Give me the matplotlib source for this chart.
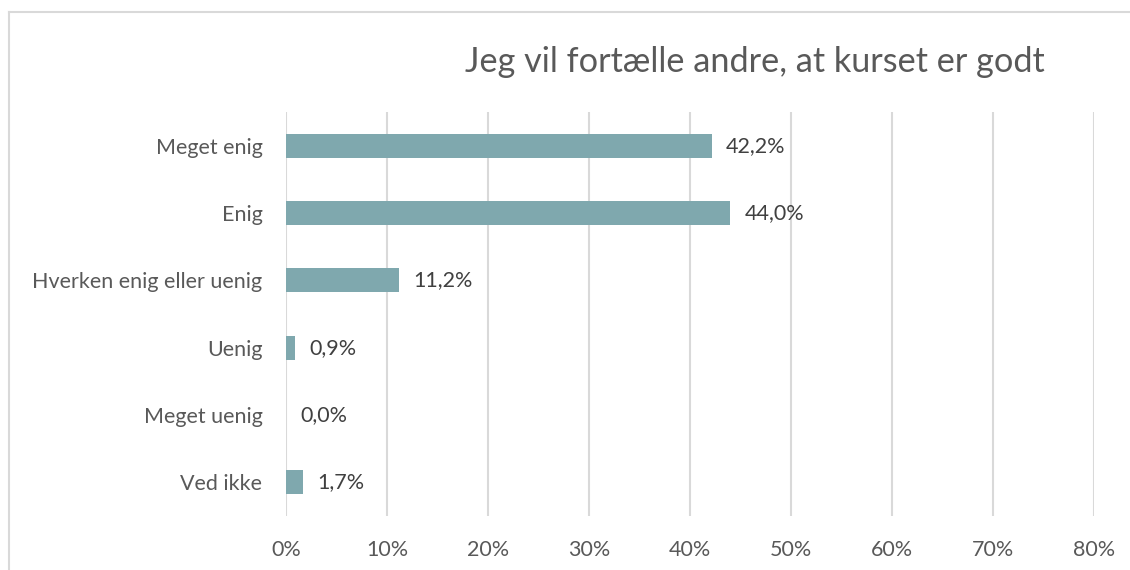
import matplotlib.pyplot as plt
from matplotlib.lines import Line2D

# data
kategorier = ["Meget enig", "Enig", "Hverken enig eller uenig", "Uenig", "Meget uenig", "Ved ikke"]
andele = [42.2, 44.0, 11.2, 0.9, 0.0, 1.7]
etiketter = ["42,2%", "44,0%", "11,2%", "0,9%", "0,0%", "1,7%"]
xticks = [0, 10, 20, 30, 40, 50, 60, 70, 80]
titel = "Jeg vil fortælle andre, at kurset er godt"

plt.rcParams['font.family'] = ['Lato', 'DejaVu Sans']

fig = plt.figure(figsize=(11.3, 5.7), dpi=100)
ax = fig.add_axes([286/1130, 1 - 516/570, (1094 - 286)/1130, (516 - 112)/570])

y = list(range(len(kategorier)))
ax.barh(y, andele, height=0.36, color="#7FA8AE", zorder=3)
ax.set_ylim(len(kategorier) - 0.5, -0.5)
ax.set_xlim(0, 80)

for yi, v, lab in zip(y, andele, etiketter):
    ax.annotate(lab, (v, yi), xytext=(10, 0), textcoords="offset points",
                va="center", ha="left", fontsize=15.5, color="#404040")

ax.set_yticks(y)
ax.set_yticklabels(kategorier, fontsize=15.5, color="#595959")
ax.set_xticks(xticks)
ax.set_xticklabels([f"{t}%" for t in xticks], fontsize=15.5, color="#595959")
ax.tick_params(length=0, pad=17, axis="y")
ax.tick_params(length=0, pad=17, axis="x")
ax.xaxis.grid(True, color="#D9D9D9", linewidth=1.5, zorder=0)
for s in ax.spines.values():
    s.set_visible(False)

fig.text(755/1130, 1 - 62/570, titel, ha="center", va="center",
         fontsize=24.7, color="#595959")

# ramme
fig.add_artist(Line2D([9/1130, 9/1130], [0, 1 - 12/570], color="#D9D9D9", lw=1.5))
fig.add_artist(Line2D([9/1130, 1], [1 - 12/570, 1 - 12/570], color="#D9D9D9", lw=1.5))

fig.savefig("out.png", dpi=100)
